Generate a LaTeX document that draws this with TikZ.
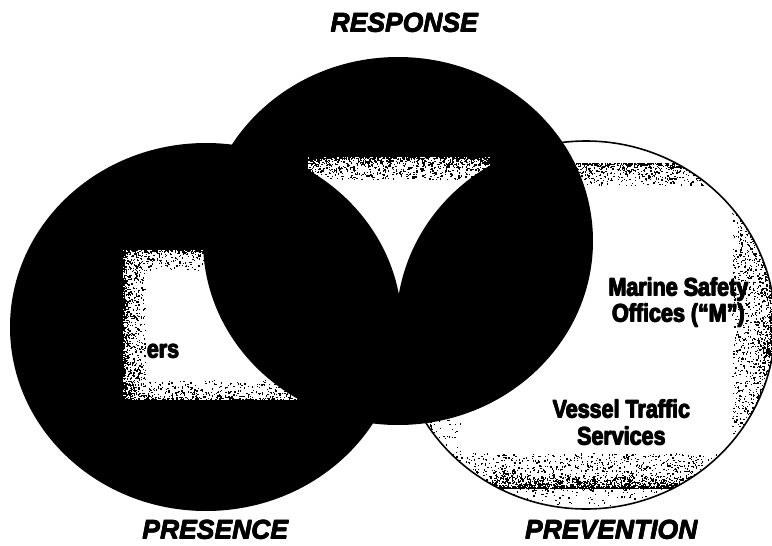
\documentclass[tikz,border=0pt]{standalone}
\usepackage{fontspec}
\setmainfont{Liberation Sans}
\newfontfamily\condfont[UprightFont=* Bold,FakeStretch=0.86]{Liberation Sans}
\newfontfamily\capfont[UprightFont=* Bold Italic]{Liberation Sans}

% heavier strokes: the text set over slightly shifted copies of itself
\newcommand\heavy[2]{\leavevmode
  \rlap{\kern#1pt#2}\rlap{\raisebox{#1pt}{#2}}\rlap{\kern#1pt\raisebox{#1pt}{#2}}#2}

% speckled edge: dots spread along the segment (#1,#2)--(#3,#4),
% thinning out along the inward vector (#5,#6); #7 dots
\newcommand\grainband[7]{%
  \foreach \k in {1,...,#7}{%
    \pgfmathsetmacro\gu{rnd}%
    \pgfmathsetmacro\gv{pow(rnd,2.4)}%
    \fill ({#1+(#3-#1)*\gu+(#5)*\gv},{#2+(#4-#2)*\gu+(#6)*\gv}) rectangle ++(1.3,1.3);
  }}

\tikzset{
  caption/.style={font=\capfont\fontsize{26.5}{30}\selectfont, inner sep=0pt},
  boxtext/.style={font=\condfont\fontsize{25}{27}\selectfont, inner sep=0pt},
}

\begin{document}
\begin{tikzpicture}[x=1pt,y=-1pt]
  \pgfmathsetseed{4711}
  \useasboundingbox (0,0) rectangle (772,546);
  \fill[white] (0,0) rectangle (772,546);
  \clip (0,0) rectangle (772,546);

  % circle centres
  \coordinate (ctop)   at (398,241);
  \coordinate (cleft)  at (206,327);
  \coordinate (cright) at (586,325);

  % Response circle
  \fill[black] (ctop) ellipse [x radius=195pt, y radius=184pt];

  % label panel inside the Response circle
  \fill[white] (308,157) rectangle (490,330);
  \grainband{308}{157}{490}{157}{0}{22}{1000}
  \grainband{308}{157}{308}{182}{12}{0}{70}
  \grainband{490}{157}{490}{182}{-12}{0}{70}

  % Presence circle
  \fill[black] (cleft) ellipse [x radius=196pt, y radius=184pt];

  % label panel inside the Presence circle
  \fill[white] (123,250) rectangle (305,400);
  \node[boxtext, anchor=base east] (cutters) at (179,358) {\heavy{0.9}{ers}};
  \grainband{123}{250}{123}{400}{22}{0}{900}
  \grainband{123}{250}{305}{250}{0}{20}{650}
  \grainband{123}{400}{305}{400}{0}{-20}{650}
  \begin{scope}
    \clip (118,245) rectangle (310,405);
    \fill[black] (ctop) ellipse [x radius=195pt, y radius=184pt];
  \end{scope}

  % Prevention circle with its label panel
  \fill[white] (cright) ellipse [x radius=189pt, y radius=184pt];
  \begin{scope}
    \clip (cright) ellipse [x radius=189pt, y radius=184pt];
    \node[boxtext, anchor=base] (mso1) at (678,296) {\heavy{0.9}{Marine Safety}};
    \node[boxtext, anchor=base] (mso2) at (678,322) {\heavy{0.9}{Offices (“M”)}};
    \node[boxtext, anchor=base] (vts1) at (621,418) {\heavy{0.9}{Vessel Traffic}};
    \node[boxtext, anchor=base] (vts2) at (621,445) {\heavy{0.9}{Services}};
    \grainband{575}{163}{720}{163}{0}{22}{700}
    \grainband{772}{163}{772}{488}{-40}{0}{2600}
    \grainband{425}{488}{725}{488}{0}{-35}{1800}
    \grainband{425}{488}{725}{488}{0}{-12}{1200}
    \grainband{430}{400}{430}{470}{30}{0}{160}
    \grainband{430}{488}{720}{488}{0}{18}{220}
    % overlaps with the other two circles
    \fill[black] (ctop) ellipse [x radius=195pt, y radius=184pt];
    \fill[black] (cleft) ellipse [x radius=196pt, y radius=184pt];
  \end{scope}
  \draw[black, line width=1.6pt] (cright) ellipse [x radius=189pt, y radius=184pt];

  % circle captions
  \node[caption, anchor=base] (response)   at (404,32)  {\heavy{0.6}{RESPONSE}};
  \node[caption, anchor=base] (presence)   at (215,539) {\heavy{0.6}{PRESENCE}};
  \node[caption, anchor=base] (prevention) at (611,539) {\heavy{0.6}{PREVENTION}};
\end{tikzpicture}
\end{document}
